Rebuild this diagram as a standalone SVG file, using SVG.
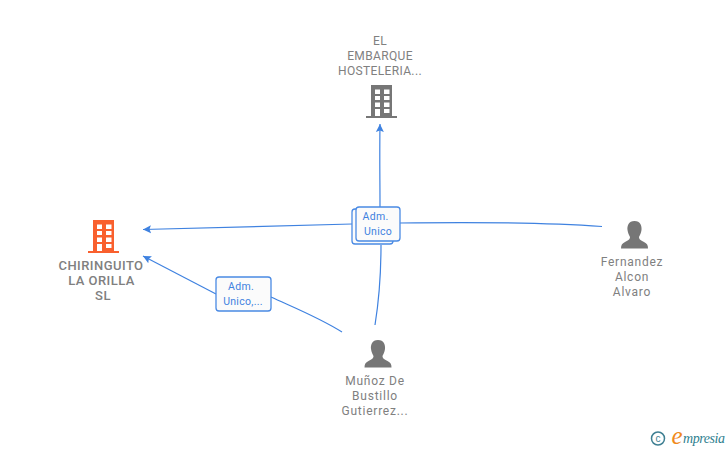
<svg xmlns="http://www.w3.org/2000/svg" width="728" height="450" viewBox="0 0 728 450">
<style>
.l{font-family:Roboto,"Liberation Sans",Arial,sans-serif;font-size:12px;letter-spacing:.35px;fill:#808080;text-anchor:middle}
.w{letter-spacing:.75px}
.b{font-size:13px;font-weight:500;letter-spacing:.45px}
.e{fill:none;stroke:#3f82e0;stroke-width:1.2}
.box{fill:#fbfbfb;stroke:#4a8ae4;stroke-width:1.3}
.t{font-family:Roboto,"Liberation Sans",Arial,sans-serif;font-size:10.5px;letter-spacing:.3px;fill:#3f82e0;text-anchor:middle}
.p{fill:#767676}
</style>
<defs>
<marker id="a" markerWidth="10" markerHeight="10" refX="8" refY="5" orient="auto" markerUnits="userSpaceOnUse"><path d="M8 5L0 1L1.500 5L0 9Z" fill="#3f82e0"/></marker>
<path id="bld" fill-rule="evenodd" d="M-10.500 31V0H10.500V31H15.500V33H-15.500V31ZM-6.500 4.500V9H-1.500V4.500ZM2.500 4.500V9H8V4.500ZM-6.500 11V15H-1.500V11ZM2.500 11V15H8V11ZM-6.500 17.500V22H-1.500V17.500ZM2.500 17.500V22H8V17.500ZM-6.500 24V31H-1.500V24ZM2.500 24V28H8V24Z"/>
<path id="per" d="M0-15C6-15 7.500-10 7-6C6.500-2.500 5.500-1 4.500 1C4.500 4 7 4.500 9.500 6C12.500 7.500 13.500 9 13.500 12.500H-13.500C-13.500 9-12.500 7.500-9.500 6C-7 4.500-4.500 4-4.500 1C-5.500-1-6.500-2.500-7-6C-7.500-10-6-15 0-15Z"/>
</defs>
<g id="connectors">
<path class="e" marker-end="url(#a)" d="M352 224L143 229.500"/>
<path class="e" marker-end="url(#a)" d="M380 207C380 180 379.500 155 380 124"/>
<path class="e" d="M399 223C470 222 540 222 602 226.500"/>
<path class="e" d="M381 245C381 280 379 300 375 325"/>
<path class="e" marker-end="url(#a)" d="M216 294L143 256"/>
<path class="e" d="M271 297C295 308 320 318 342 332"/>
</g>
<g id="n1"><use href="#bld" x="103.500" y="220" fill="#f9602e"/>
<text class="l b" x="101" y="270">CHIRINGUITO</text><text class="l b" x="101.500" y="285">LA ORILLA</text><text class="l b" x="103" y="300">SL</text></g>
<g id="n2"><use href="#bld" x="381.500" y="85" fill="#767676"/>
<text class="l" x="380" y="45">EL</text><text class="l" x="380" y="60">EMBARQUE</text><text class="l" x="380" y="75">HOSTELERIA...</text></g>
<g id="n3"><use href="#per" x="634.500" y="236" class="p"/>
<text class="l w" x="632" y="266">Fernandez</text><text class="l w" x="632" y="281">Alcon</text><text class="l w" x="632" y="296">Alvaro</text></g>
<g id="n4"><use href="#per" x="378" y="355" class="p"/>
<text class="l w" x="375" y="385">Muñoz De</text><text class="l w" x="375" y="400">Bustillo</text><text class="l w" x="375" y="415">Gutierrez...</text></g>
<g id="e1"><rect class="box" x="352" y="209" width="41" height="35" rx="3"/><rect class="box" x="356" y="207" width="44" height="34" rx="3"/>
<text class="t" x="375.500" y="220">Adm.</text><text class="t" x="378" y="235">Unico</text></g>
<g id="e2"><rect class="box" x="216" y="277" width="55" height="34" rx="3"/>
<text class="t" x="241" y="290">Adm.</text><text class="t" x="243" y="305">Unico,...</text></g>
<g id="logo"><circle cx="658" cy="438.500" r="6.500" fill="none" stroke="#3e7f92" stroke-width="1.500"/>
<text x="658" y="442" font-family="Liberation Sans,sans-serif" font-size="10" fill="#3e7f92" text-anchor="middle">c</text>
<text x="677" y="444" font-family="Liberation Serif,serif" font-style="italic" font-size="25" fill="#f08a1c" text-anchor="middle">e</text>
<text x="683" y="443" font-family="Liberation Serif,serif" font-style="italic" font-size="14" fill="#2f7f8f" textLength="42">mpresia</text></g>
</svg>
